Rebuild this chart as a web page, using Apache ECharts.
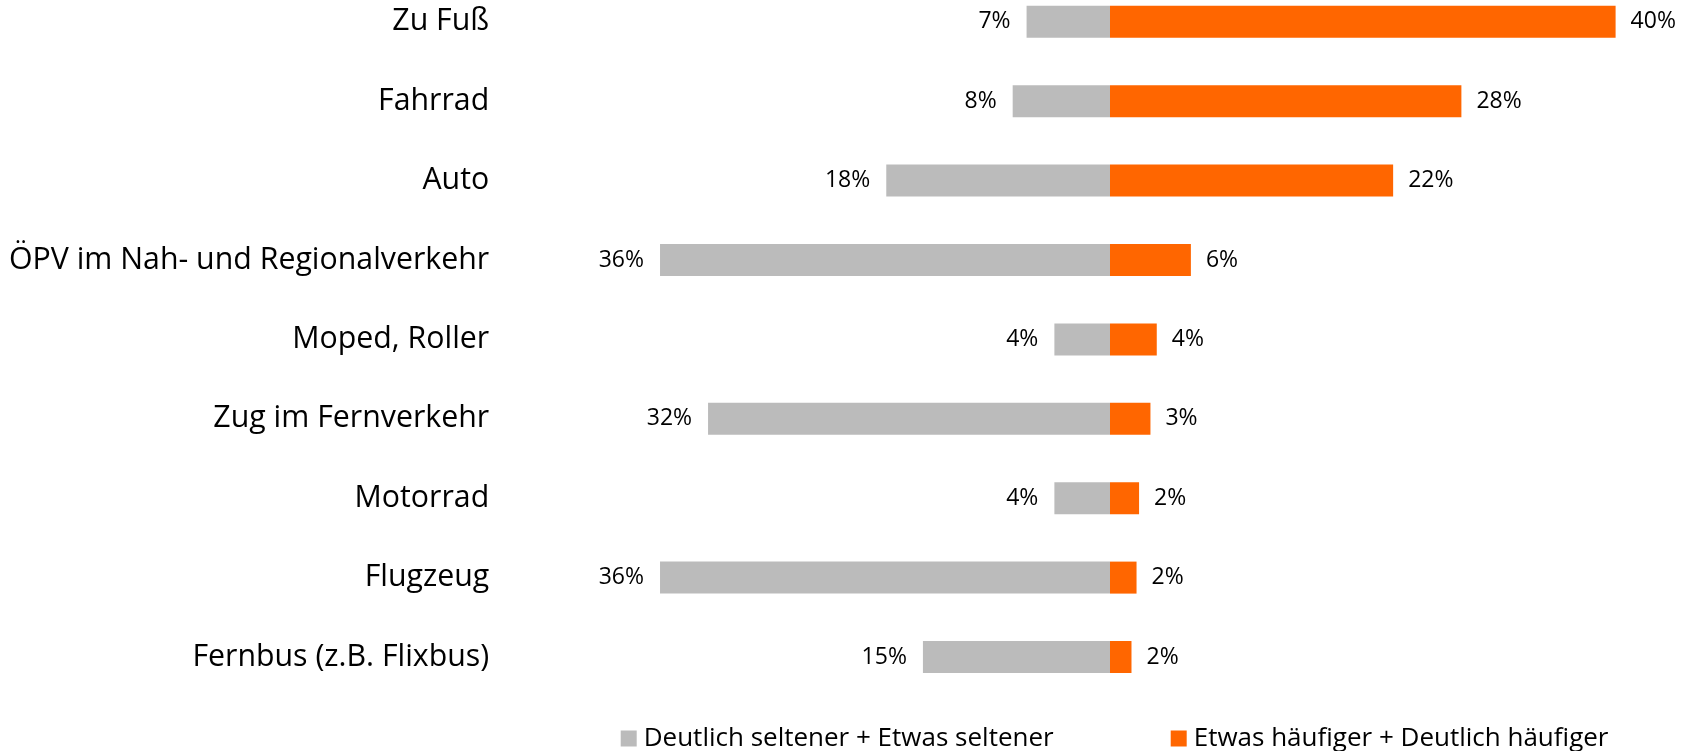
<!DOCTYPE html>
<html>
<head>
<meta charset="utf-8">
<script src="https://cdn.jsdelivr.net/npm/echarts@6/dist/echarts.min.js"></script>
<style>
html,body{margin:0;padding:0;background:#fff;}
#chart{width:1700px;height:751px;}
</style>
</head>
<body>
<div id="chart"></div>
<script>
const categories = ["Zu Fuß","Fahrrad","Auto","ÖPV im Nah- und Regionalverkehr","Moped, Roller","Zug im Fernverkehr","Motorrad","Flugzeug","Fernbus (z.B. Flixbus)"];
const seltener = [6.6, 7.7, 17.7, 35.6, 4.4, 31.8, 4.4, 35.6, 14.8];
const haeufiger = [40.0, 27.8, 22.4, 6.4, 3.7, 3.2, 2.3, 2.1, 1.7];
const seriesNames = ["Deutlich seltener + Etwas seltener", "Etwas häufiger + Deutlich häufiger"];

const FONT = "'Open Sans', 'Noto Sans', sans-serif";
const chart = echarts.init(document.getElementById('chart'), null, {renderer:'canvas'});
const pct = v => Math.round(Math.abs(v)) + '%';

chart.setOption({
  animation: false,
  backgroundColor: '#ffffff',
  textStyle: {fontFamily: FONT, color: '#000'},
  grid: {left: 541.2, right: 21.2, top: -17.9, height: 714.6, containLabel: false, outerBoundsMode: 'none'},
  xAxis: {type: 'value', min: -45, max: 45, show: false},
  yAxis: {
    type: 'category', inverse: true, data: categories,
    axisLine: {show: false, onZero: false}, axisTick: {show: false}, splitLine: {show: false},
    axisLabel: {margin: 52, fontSize: 30.3, color: '#000', fontFamily: FONT, padding: [6, 0, 0, 0]}
  },
  legend: [
    {data: [seriesNames[0]], left: 620.7, top: 725, padding: 0, icon: 'rect', itemWidth: 16, itemHeight: 16,
     textStyle: {fontSize: 26, fontFamily: FONT, color: '#000', lineHeight: 24, padding: [3,0,0,2]}},
    {data: [seriesNames[1]], left: 1170.7, top: 725, padding: 0, icon: 'rect', itemWidth: 16, itemHeight: 16,
     textStyle: {fontSize: 26, fontFamily: FONT, color: '#000', lineHeight: 24, padding: [3,0,0,2]}}
  ],
  series: [
    {
      name: seriesNames[0], type: 'bar', stack: 'total', barWidth: 32,
      data: seltener.map(v => -v),
      itemStyle: {color: '#BBBBBB'},
      label: {show: true, position: 'left', distance: 16, fontSize: 23, color: '#000', fontFamily: FONT, padding: [4, 0, 0, 0], formatter: p => pct(p.value)}
    },
    {
      name: seriesNames[1], type: 'bar', stack: 'total', barWidth: 32,
      data: haeufiger,
      itemStyle: {color: '#FF6600'},
      label: {show: true, position: 'right', distance: 15, fontSize: 23, color: '#000', fontFamily: FONT, padding: [4, 0, 0, 0], formatter: p => pct(p.value)}
    }
  ]
});
</script>
</body>
</html>
